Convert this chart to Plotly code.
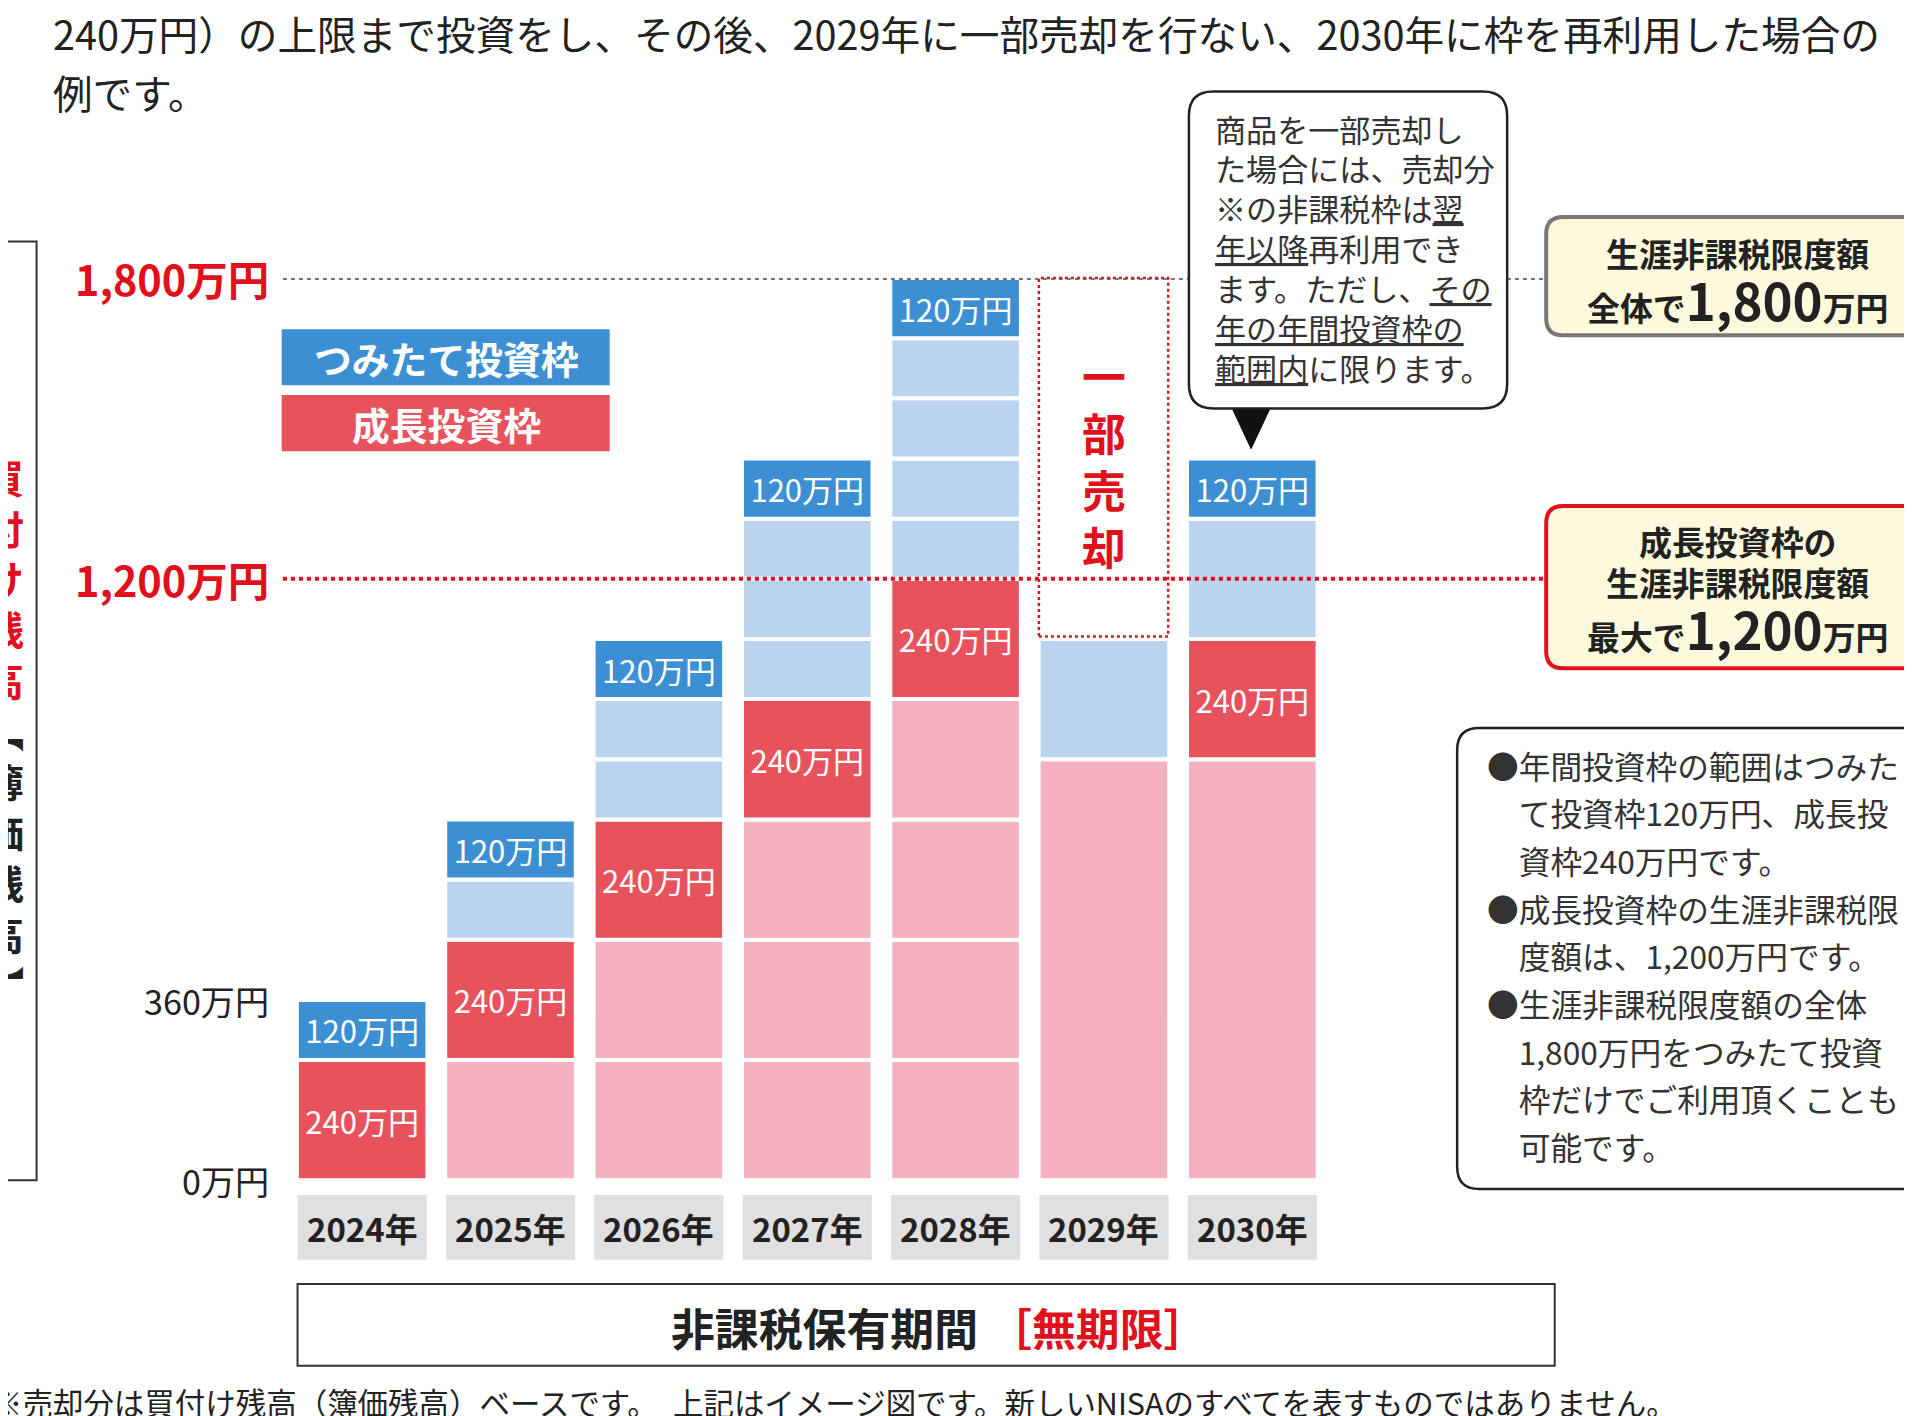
import plotly.graph_objects as go

W, H = 1912, 1416
S = W / 1568.0
OFF = 8
FONT = "Noto Sans CJK JP"

years = ["2024年", "2025年", "2026年", "2027年", "2028年", "2029年", "2030年"]
pink_blocks = [[], [240], [240, 240], [240, 240, 240], [240, 240, 240, 240], [840], [840]]
red_values = [240, 240, 240, 240, 240, 0, 240]
lightblue_blocks = [[], [120], [120, 120], [120, 120, 120], [120, 120, 120, 120], [240], [240]]
blue_values = [120, 120, 120, 120, 120, 0, 120]
y_ticks = [0, 360, 1200, 1800]
y_tick_labels = ["0万円", "360万円", "1,200万円", "1,800万円"]

C_PINK, C_LB, C_RED, C_BLUE = "#f4b1c0", "#bad4ef", "#e8525d", "#3d8fd3"

def px(x): return (x * S - OFF) / W
def py(y): return 1 - (y * S - OFF) / H

layers = {k: {"x": [], "base": [], "y": []} for k in ["pink", "red", "lb", "blue"]}
for i in range(len(years)):
    b = 0
    for v in pink_blocks[i]:
        layers["pink"]["x"].append(i); layers["pink"]["base"].append(b); layers["pink"]["y"].append(v); b += v
    if red_values[i]:
        layers["red"]["x"].append(i); layers["red"]["base"].append(b); layers["red"]["y"].append(red_values[i]); b += red_values[i]
    for v in lightblue_blocks[i]:
        layers["lb"]["x"].append(i); layers["lb"]["base"].append(b); layers["lb"]["y"].append(v); b += v
    if blue_values[i]:
        layers["blue"]["x"].append(i); layers["blue"]["base"].append(b); layers["blue"]["y"].append(blue_values[i]); b += blue_values[i]

fig = go.Figure()
colors = {"pink": C_PINK, "red": C_RED, "lb": C_LB, "blue": C_BLUE}
for k, d in layers.items():
    txt = None
    if k in ("red", "blue"):
        txt = [f"{v}万円" for v in d["y"]]
    fig.add_trace(go.Bar(x=d["x"], y=d["y"], base=d["base"], width=0.88,
                         marker=dict(color=colors[k], line=dict(color="white", width=4)),
                         text=txt, textposition="inside", insidetextanchor="middle",
                         textfont=dict(color="white", size=31, family=FONT),
                         hoverinfo="skip", showlegend=False))

spacing = (1027 - 297) / 6
fig.update_layout(
    width=W, height=H, margin=dict(l=0, r=0, t=0, b=0),
    paper_bgcolor="white", plot_bgcolor="rgba(0,0,0,0)",
    barmode="overlay", font=dict(family=FONT),
    xaxis=dict(range=[-0.5, 6.5], domain=[px(297 - spacing / 2), px(1027 + spacing / 2)],
               visible=False, fixedrange=True),
    yaxis=dict(range=[0, 1800], domain=[py(968), py(228)], visible=False),
)

ann = []
shapes = []
def T(x, y, text, size, color="#222", xa="left", ya="middle", bold=False, **kw):
    if bold: text = f"<b>{text}</b>"
    ann.append(dict(x=px(x), y=py(y), xref="paper", yref="paper", text=text, showarrow=False,
                    xanchor=xa, yanchor=ya, font=dict(size=size * S, color=color, family=FONT), **kw))

def rrect(x0, y0, x1, y1, r, line, lw, fill="white", dash=None):
    rx, ry = r * S / W, r * S / H
    X0, X1, Y0, Y1 = px(x0), px(x1), py(y0), py(y1)
    p = (f"M {X0+rx},{Y0} L {X1-rx},{Y0} Q {X1},{Y0} {X1},{Y0-ry} L {X1},{Y1+ry} Q {X1},{Y1} {X1-rx},{Y1} "
         f"L {X0+rx},{Y1} Q {X0},{Y1} {X0},{Y1+ry} L {X0},{Y0-ry} Q {X0},{Y0} {X0+rx},{Y0} Z")
    shapes.append(dict(type="path", path=p, xref="paper", yref="paper", fillcolor=fill,
                       line=dict(color=line, width=lw, dash=dash) if dash else dict(color=line, width=lw)))

def rect(x0, y0, x1, y1, fill, line="rgba(0,0,0,0)", lw=0, dash=None):
    shapes.append(dict(type="rect", xref="paper", yref="paper", x0=px(x0), x1=px(x1), y0=py(y1), y1=py(y0),
                       fillcolor=fill, line=dict(color=line, width=lw, dash=dash), layer="above"))

# top text
T(42, 27, "240万円）の上限まで投資をし、その後、2029年に一部売却を行ない、2030年に枠を再利用した場合の", 32.5)
T(42, 75, "例です。", 32.5)

# reference lines (above bars)
shapes.append(dict(type="line", xref="paper", yref="y", x0=px(232), x1=px(1268), y0=1800, y1=1800,
                   line=dict(color="#777", width=4, dash="dot")))
shapes.append(dict(type="line", xref="paper", yref="y", x0=px(232), x1=px(1268), y0=1200, y1=1200,
                   line=dict(color="#d9111c", width=4, dash="dot")))

# y labels
for v, lab in zip(y_ticks, y_tick_labels):
    red = v >= 1200
    ann.append(dict(x=px(222), y=v, xref="paper", yref="y", text=f"<b>{lab}</b>" if red else lab,
                    showarrow=False, xanchor="right", yanchor="middle",
                    font=dict(size=(34 if red else 28) * S, color="#e0101c" if red else "#222", family=FONT)))

# legend boxes
rect(231, 270, 500, 316, C_BLUE)
T(366, 293, "つみたて投資枠", 31, "white", "center", bold=True)
rect(231, 324, 500, 370, C_RED)
T(366, 347, "成長投資枠", 31, "white", "center", bold=True)

# left bracket
shapes.append(dict(type="path", xref="paper", yref="paper",
                   path=f"M {px(0)},{py(198)} L {px(30)},{py(198)} L {px(30)},{py(968)} L {px(0)},{py(968)}",
                   line=dict(color="#333", width=2)))
vert = ("<span style='color:#e0101c'>" + "<br>".join("買付け残高") + "</span><br>"
        + "<span style='color:#222'>" + "<br>".join("︻簿価残高︼") + "</span>")
T(4, 598, f"<b>{vert}</b>", 32, "#222", "center")

# year labels
for i, yl in enumerate(years):
    cx = 297 + i * spacing
    rect(cx - 53, 980, cx + 53, 1033, "#e0e0e0")
    T(cx, 1007, yl, 27, "#222", "center", bold=True)

# bottom box
rect(244, 1053, 1275, 1120, "rgba(0,0,0,0)", "#333", 2)
T(770, 1088, "<b>非課税保有期間 <span style='color:#e0101c'>［無期限］</span></b>", 36, "#222", "center")
T(-8, 1150, "※売却分は買付け残高（簿価残高）ベースです。　上記はイメージ図です。新しいNISAのすべてを表すものではありません。", 25)

# 2029 dashed box
rect(852, 228, 958, 522, "rgba(0,0,0,0)", "#e0101c", 2.5, "dot")
T(905, 378, "<br>".join("一部売却"), 36, "#e0101c", "center", bold=True)

# callout
rrect(975, 75, 1236, 335, 20, "#222", 2.5)
shapes.append(dict(type="path", xref="paper", yref="paper",
                   path=f"M {px(1011)},{py(336)} L {px(1041)},{py(336)} L {px(1026)},{py(368)} Z",
                   fillcolor="#111", line=dict(color="#111", width=1)))
call_lines = ["商品を一部売却し", "た場合には、売却分", "※の非課税枠は<u>翌</u>", "<u>年以降</u>再利用でき",
              "ます。ただし、<u>その</u>", "<u>年の年間投資枠の</u>", "<u>範囲内</u>に限ります。"]
for j, l in enumerate(call_lines):
    T(995, 105 + j * 32.7, l, 25.5, "#333")

# right boxes
rrect(1268, 178, 1580, 275, 14, "#777", 4, "#fdf9dc")
T(1425, 207, "生涯非課税限度額", 27, "#222", "center", bold=True)
T(1425, 245, "<b>全体で<span style='font-size:%dpx'>1,800</span>万円</b>" % int(42 * S), 27, "#222", "center")
rrect(1268, 415, 1580, 548, 14, "#e0101c", 4, "#fdf9dc")
T(1425, 443, "成長投資枠の", 27, "#222", "center", bold=True)
T(1425, 477, "生涯非課税限度額", 27, "#222", "center", bold=True)
T(1425, 515, "<b>最大で<span style='font-size:%dpx'>1,200</span>万円</b>" % int(42 * S), 27, "#222", "center")

# notes box
rrect(1195, 597, 1590, 975, 18, "#222", 2.5)
notes = ["●年間投資枠の範囲はつみた", "　て投資枠120万円、成長投", "　資枠240万円です。",
         "●成長投資枠の生涯非課税限", "　度額は、1,200万円です。",
         "●生涯非課税限度額の全体", "　1,800万円をつみたて投資", "　枠だけでご利用頂くことも", "　可能です。"]
for j, l in enumerate(notes):
    T(1218, 627 + j * 39.1, l, 26, "#333")

fig.update_layout(annotations=ann, shapes=shapes)
fig.write_html("out.html")
